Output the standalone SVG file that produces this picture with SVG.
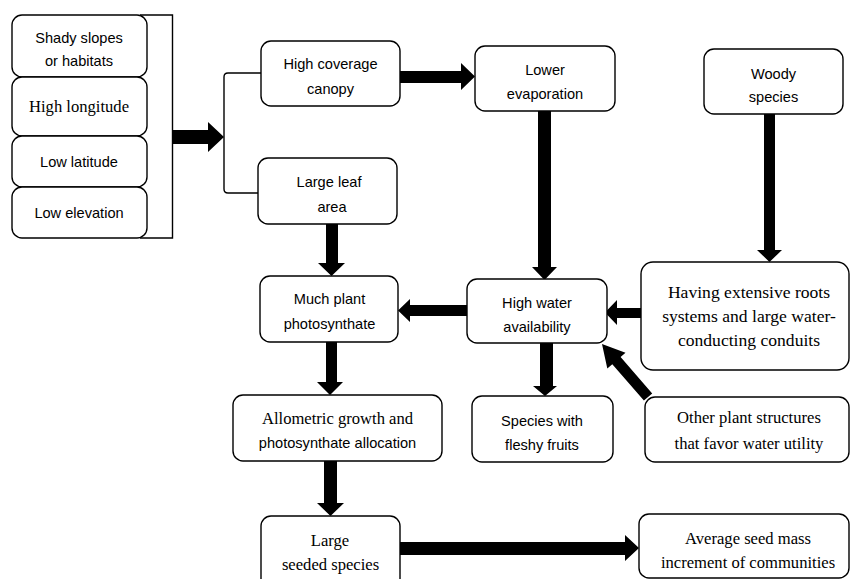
<svg xmlns="http://www.w3.org/2000/svg" width="851" height="579" viewBox="0 0 851 579">
<style>
.box{fill:#fff;stroke:#000;stroke-width:1.4}
.s{font-family:"Liberation Sans",Arial,sans-serif;font-size:14.6px;fill:#000;text-anchor:middle}
.t{font-family:"Liberation Serif","Times New Roman",serif;font-size:16.6px;fill:#000;text-anchor:middle}
.tb{font-family:"Liberation Serif","Times New Roman",serif;font-size:17.6px;fill:#000;text-anchor:middle}
.arr{fill:#000;stroke:none}
.ln{fill:none;stroke:#000;stroke-width:1.4}
</style>
<rect width="851" height="579" fill="#fff"/>
<g id="connectors">
<path class="ln" d="M140,15 H172.5 V238 H140"/>
<path class="ln" d="M261,73 H228 Q224,73 224,77 V189 Q224,193 228,193 H258"/>
<polygon class="arr" points="173,130 208,130 208,122 224,137 208,152 208,144 173,144"/>
<polygon class="arr" points="400,71 461,71 461,63 475,76.5 461,90 461,83 400,83"/>
<polygon class="arr" points="538,111 551,111 551,267 557,267 544.5,280 532,267 538,267"/>
<polygon class="arr" points="764,114 775,114 775,250 782,250 769.5,262 757,250 764,250"/>
<polygon class="arr" points="641,308 617,308 617,300 605,312.5 617,325 617,318 641,318"/>
<polygon class="arr" points="467,305 410,305 410,299 398,310.5 410,322 410,316 467,316"/>
<polygon class="arr" points="326,224 338,224 338,263 345,263 331.5,276 318,263 326,263"/>
<polygon class="arr" points="326,342 337,342 337,382 343,382 330,395 317,382 326,382"/>
<polygon class="arr" points="540,343 553,343 553,386 557,386 545,396 533,386 540,386"/>
<polygon class="arr" points="324,461 337,461 337,503 344,503 330.5,516 317,503 324,503"/>
<polygon class="arr" points="400,542 625,542 625,535 639,548 625,561 625,555 400,555"/>
<polygon class="arr" points="602,344 625.5,352.7 620.6,357 652.2,393.4 643.9,400.6 612.3,364.2 607.3,368.5"/>
</g>
<g id="n-shady"><rect class="box" x="12" y="15" width="135" height="62" rx="10"/><text class="s" x="79" y="43">Shady slopes</text><text class="s" x="79" y="66">or habitats</text></g>
<g id="n-longitude"><rect class="box" x="12" y="77" width="135" height="59" rx="10"/><text class="t" x="79" y="112">High longitude</text></g>
<g id="n-latitude"><rect class="box" x="12" y="136" width="135" height="51" rx="10"/><text class="s" x="79" y="167">Low latitude</text></g>
<g id="n-elevation"><rect class="box" x="12" y="187" width="135" height="51" rx="10"/><text class="s" x="79" y="218">Low elevation</text></g>
<g id="n-canopy"><rect class="box" x="261" y="41" width="139" height="65" rx="10"/><text class="s" x="330.5" y="69">High coverage</text><text class="s" x="330.5" y="94">canopy</text></g>
<g id="n-leaf"><rect class="box" x="258" y="158" width="139" height="66" rx="10"/><text class="s" x="329" y="187">Large leaf</text><text class="s" x="332" y="212">area</text></g>
<g id="n-evap"><rect class="box" x="475" y="46" width="140" height="65" rx="10"/><text class="s" x="545" y="75">Lower</text><text class="s" x="545" y="99">evaporation</text></g>
<g id="n-woody"><rect class="box" x="704" y="49" width="139" height="65" rx="10"/><text class="s" x="773.5" y="79">Woody</text><text class="s" x="773.5" y="102">species</text></g>
<g id="n-roots"><rect class="box" x="641" y="262" width="208" height="108" rx="12"/><text class="tb" x="749" y="298">Having extensive roots</text><text class="tb" x="749" y="322">systems and large water-</text><text class="tb" x="749" y="346">conducting conduits</text></g>
<g id="n-water"><rect class="box" x="467" y="279" width="140" height="64" rx="10"/><text class="s" x="537" y="308">High water</text><text class="s" x="537" y="332">availability</text></g>
<g id="n-photo"><rect class="box" x="260" y="276" width="138" height="66" rx="10"/><text class="s" x="329.5" y="304">Much plant</text><text class="s" x="329.5" y="329">photosynthate</text></g>
<g id="n-allometric"><rect class="box" x="233" y="395" width="209" height="66" rx="10"/><text class="t" x="337.5" y="424">Allometric growth and</text><text class="s" x="337.5" y="448">photosynthate allocation</text></g>
<g id="n-fleshy"><rect class="box" x="472" y="396" width="141" height="66" rx="10"/><text class="s" x="542" y="426">Species with</text><text class="s" x="542" y="450">fleshy fruits</text></g>
<g id="n-other"><rect class="box" x="645" y="397" width="204" height="65" rx="10"/><text class="t" x="749" y="423">Other plant structures</text><text class="t" x="749" y="449">that favor water utility</text></g>
<g id="n-large"><rect class="box" x="261" y="516" width="139" height="74" rx="10"/><text class="t" x="330" y="546">Large</text><text class="t" x="330.5" y="570">seeded species</text></g>
<g id="n-average"><rect class="box" x="639" y="514" width="210" height="64" rx="10"/><text class="t" x="748" y="544">Average seed mass</text><text class="t" x="748" y="568">increment of communities</text></g>
</svg>
